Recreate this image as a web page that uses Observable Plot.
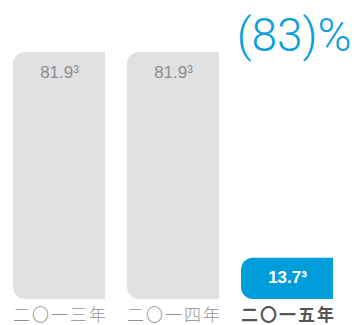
<!DOCTYPE html>
<html><head><meta charset="utf-8">
<script src="https://cdn.jsdelivr.net/npm/d3@7"></script>
<script src="https://cdn.jsdelivr.net/npm/@observablehq/plot@0.6"></script>
<style>
html,body{margin:0;padding:0;background:#fff;}
</style>
</head><body><div id="chart"></div>
<script>
const years = ["二〇一三年", "二〇一四年", "二〇一五年"];
const values = [81.9, 81.9, 13.7];
const valueLabels = ["81.9³", "81.9³", "13.7³"];
const highlight = [false, false, true];
const changeLabel = "(83)%";

const data = years.map((y, i) => ({year: y, value: values[i], label: valueLabels[i], hi: highlight[i]}));
const base = data.filter(d => !d.hi);
const hot = data.filter(d => d.hi);

const chart = Plot.plot({
  width: 354,
  height: 325,
  marginTop: 52,
  marginBottom: 26,
  marginLeft: 12,
  marginRight: 19,
  style: {fontFamily: "Liberation Sans, Arial, sans-serif", background: "#fff"},
  x: {domain: years, paddingInner: 0.19, paddingOuter: 0, axis: null},
  y: {domain: [0, 81.9], axis: null},
  marks: [
    Plot.barY(data, {x: "year", y: "value", fill: d => d.hi ? "#009ddb" : "#e1e1e3", rx1: 12}),
    Plot.text(base, {x: "year", y: "value", text: "label", dy: 20, lineAnchor: "middle",
      fill: "#8c8c8c", fontSize: 17}),
    Plot.text(hot, {x: "year", y: "value", text: "label", dy: 19, lineAnchor: "middle",
      fill: "#ffffff", fontSize: 17, fontWeight: "bold"}),
    Plot.text(base, {x: "year", y: 0, text: "year", dy: 16, dx: 1, lineAnchor: "middle",
      fill: "#939393", fontSize: 17, fontWeight: 300, fontFamily: "Noto Sans CJK SC, sans-serif"}),
    Plot.text(hot, {x: "year", y: 0, text: "year", dy: 16, dx: 1, lineAnchor: "middle",
      fill: "#555555", fontSize: 17, fontWeight: "bold", fontFamily: "Noto Sans CJK SC, sans-serif"}),
    Plot.text([changeLabel], {text: d => d, frameAnchor: "top-right", dx: 16, dy: -16,
      lineAnchor: "middle", fill: "#0aa0dc", fontSize: 46, fontWeight: 300,
      fontFamily: "Roboto, Liberation Sans, sans-serif"})
  ]
});
d3.select(chart).selectAll("text").filter(function() { return years.includes(this.textContent); })
  .attr("letter-spacing", "2px");
document.getElementById("chart").append(chart);
</script>
</body></html>
